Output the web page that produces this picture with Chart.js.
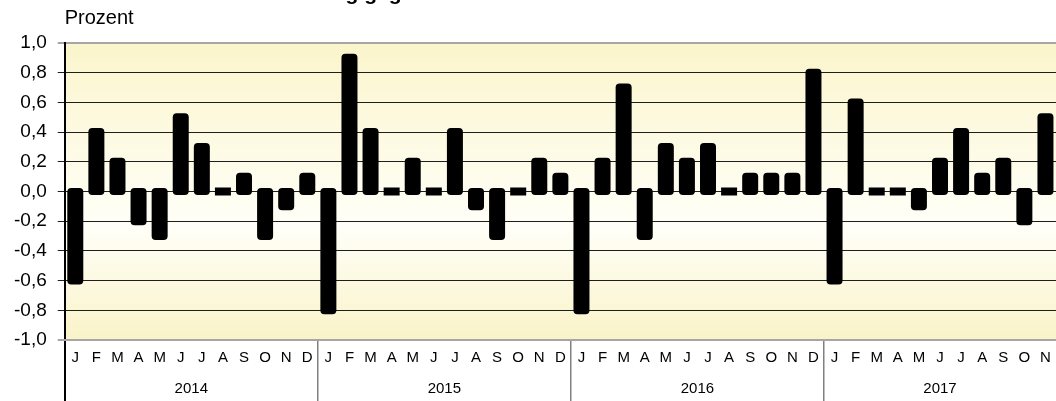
<!DOCTYPE html>
<html lang="de">
<head>
<meta charset="utf-8">
<title>Veränderung gegenüber dem Vormonat</title>
<script src="https://cdn.jsdelivr.net/npm/chart.js@4.4.1/dist/chart.umd.min.js"></script>
<style>
  html, body { margin: 0; padding: 0; background: #fff; overflow: hidden; }
  #wrap { position: relative; width: 1056px; height: 401px; overflow: hidden; }
  #title {
    position: absolute; left: 230px; top: -18px;
    font: bold 21px/21px "Liberation Sans", Arial, sans-serif;
    white-space: nowrap; color: #000;
  }
  canvas { display: block; }
</style>
</head>
<body>
<div id="wrap">
  <canvas id="chart" width="1056" height="401"></canvas>
  <div id="title">Veränderung gegenüber dem Vormonat in %</div>
</div>
<script>
const FONT = '"Liberation Sans", Arial, sans-serif';

// data (Prozent, change vs. previous month)
const years = ["2014", "2015", "2016", "2017"];
const monthLetters = ["J", "F", "M", "A", "M", "J", "J", "A", "S", "O", "N", "D"];
const values2014 = [-0.6, 0.4, 0.2, -0.2, -0.3, 0.5, 0.3, 0.0, 0.1, -0.3, -0.1, 0.1];
const values2015 = [-0.8, 0.9, 0.4, 0.0, 0.2, 0.0, 0.4, -0.1, -0.3, 0.0, 0.2, 0.1];
const values2016 = [-0.8, 0.2, 0.7, -0.3, 0.3, 0.2, 0.3, 0.0, 0.1, 0.1, 0.1, 0.8];
const values2017 = [-0.6, 0.6, 0.0, 0.0, -0.1, 0.2, 0.4, 0.1, 0.2, -0.2, 0.5];
const yMin = -1;
const yMax = 1;
const yStep = 0.2;

const valuesByYear = [values2014, values2015, values2016, values2017];

// flatten into one category per month
const labels = [];
const values = [];
valuesByYear.forEach((yearValues) => {
  yearValues.forEach((v, m) => {
    labels.push(monthLetters[m]);
    values.push(v);
  });
});

// year label sits in the middle of its months
const yearCenters = [];
let start = 0;
valuesByYear.forEach((yearValues) => {
  yearCenters.push(start + yearValues.length / 2);
  start += yearValues.length;
});

const formatTick = (v) => (Math.round(v * 10) / 10).toFixed(1).replace(".", ",");
const isEdge = (v) => Math.abs(Math.abs(v) - 1) < 1e-6;

const plotBackground = {
  id: "plotBackground",
  beforeDraw(chart) {
    const { ctx, chartArea: a } = chart;
    const g = ctx.createLinearGradient(0, a.top, 0, a.bottom);
    g.addColorStop(0, "#FBF5CC");
    g.addColorStop(0.62, "#FFFFF8");
    g.addColorStop(1, "#FAF3C8");
    ctx.save();
    ctx.fillStyle = g;
    ctx.fillRect(a.left, a.top, a.width, a.height);
    ctx.restore();
  }
};

new Chart(document.getElementById("chart"), {
  type: "bar",
  data: {
    labels: labels,
    datasets: [
      {
        data: values,
        backgroundColor: "#000",
        barThickness: 8,
        inflateAmount: 4,
        borderRadius: 4,
        borderSkipped: false,
        xAxisID: "x",
        yAxisID: "y"
      }
    ]
  },
  options: {
    responsive: false,
    animation: false,
    layout: { padding: { left: 3, right: 0, top: 0, bottom: 0 } },
    plugins: {
      legend: { display: false },
      tooltip: { enabled: false },
      subtitle: {
        display: true,
        text: "Prozent",
        align: "start",
        fullSize: false,
        color: "#000",
        font: { family: FONT, size: 20, weight: "normal" },
        padding: { top: 6, bottom: 13 }
      }
    },
    scales: {
      y: {
        min: yMin,
        max: yMax,
        ticks: {
          stepSize: yStep,
          color: "#000",
          font: { family: FONT, size: 19 },
          padding: 11,
          callback: formatTick
        },
        grid: {
          color: (c) => (isEdge(c.tick.value) ? "#a6a6a6" : "#1e1e1e"),
          lineWidth: (c) => (isEdge(c.tick.value) ? 2 : 1),
          tickLength: 7
        },
        border: { display: true, color: "#000", width: 2 }
      },
      x: {
        type: "category",
        offset: true,
        weight: 0,
        afterFit: (scale) => { scale.height = 26; },
        ticks: {
          color: "#000",
          font: { family: FONT, size: 15 },
          autoSkip: false,
          maxRotation: 0,
          padding: -52
        },
        grid: {
          offset: true,
          drawOnChartArea: false,
          tickLength: 61,
          color: (c) => (c.index % 12 === 0 ? (c.index === 0 ? "#000" : "#808080") : "rgba(0,0,0,0)"),
          lineWidth: (c) => (c.index === 0 ? 2 : 1.5)
        },
        border: { display: true, color: "#a6a6a6", width: 2 }
      },
      x2: {
        type: "linear",
        position: "bottom",
        offset: false,
        weight: 1,
        min: 0,
        max: values.length,
        afterFit: (scale) => { scale.height = 35; },
        afterBuildTicks: (scale) => {
          scale.ticks = yearCenters.map((v) => ({ value: v }));
        },
        ticks: {
          color: "#000",
          font: { family: FONT, size: 15 },
          autoSkip: false,
          maxRotation: 0,
          padding: 6,
          callback: (value, index) => years[index]
        },
        grid: { display: false },
        border: { display: false }
      }
    }
  },
  plugins: [plotBackground]
});
</script>
</body>
</html>
